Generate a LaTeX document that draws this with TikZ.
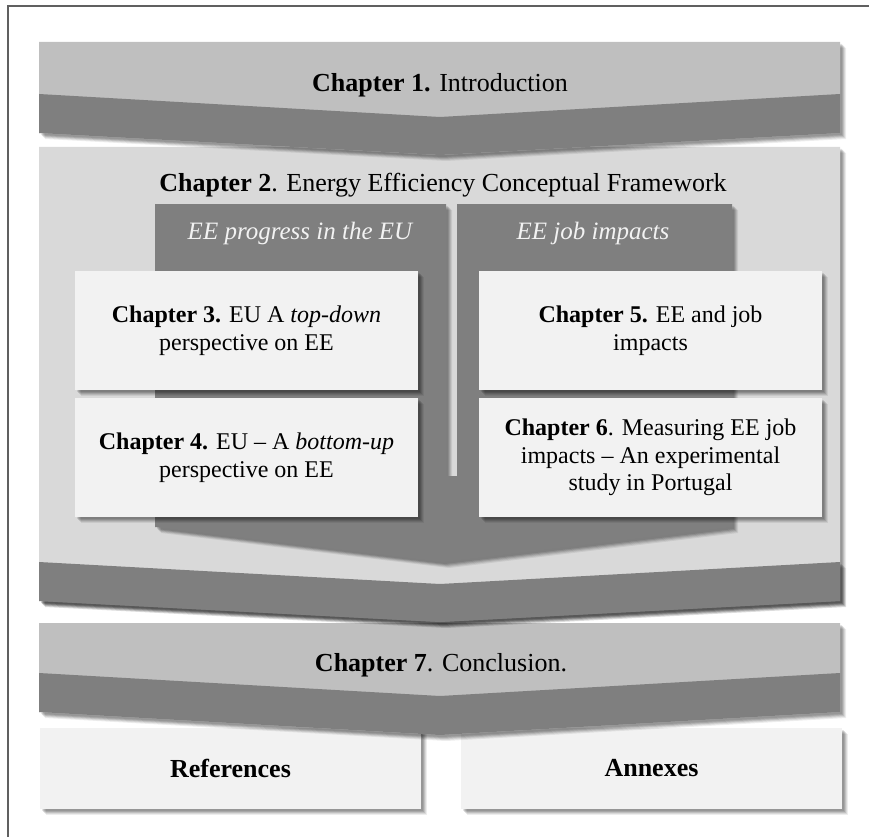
\documentclass[tikz,border=0pt]{standalone}
\usepackage{fontspec}
\setmainfont{Liberation Serif}
\usetikzlibrary{shadows}
\definecolor{bandlight}{HTML}{BFBFBF}
\definecolor{banddark}{HTML}{7F7F7F}
\definecolor{bgmid}{HTML}{D9D9D9}
\definecolor{boxfill}{HTML}{F2F2F2}
\definecolor{framegray}{HTML}{606060}
\begin{document}
\begin{tikzpicture}[x=1pt,y=-1pt,
  shd/.style={
    drop shadow={shadow xshift=6pt, shadow yshift=-6pt, opacity=0.07, fill=black},
    drop shadow={shadow xshift=5pt, shadow yshift=-5pt, opacity=0.09, fill=black},
    drop shadow={shadow xshift=4pt, shadow yshift=-4pt, opacity=0.11, fill=black},
    drop shadow={shadow xshift=3pt, shadow yshift=-3pt, opacity=0.13, fill=black},
    drop shadow={shadow xshift=2pt, shadow yshift=-2pt, opacity=0.10, fill=black}},
  lightshape/.style={fill=bandlight, shd},
  darkband/.style={fill=banddark},
  midshape/.style={fill=bgmid, shd},
  colshape/.style={fill=banddark, shd},
  chapbox/.style={rectangle, fill=boxfill, shd, inner sep=0pt, align=center,
     font=\fontsize{24}{27.5}\selectfont},
  endbox/.style={rectangle, fill=boxfill, shd, inner sep=0pt, align=center,
     font=\fontsize{26}{30}\selectfont\bfseries,
     minimum width=381, minimum height=81},
  title/.style={font=\fontsize{26}{30}\selectfont, inner sep=0pt},
  collabel/.style={font=\fontsize{25}{30}\selectfont\itshape, text=boxfill, inner sep=0pt},
  frameline/.style={draw=framegray, line width=1.2pt}
]
\useasboundingbox (0,0) rectangle (869,837);
% frame
\coordinate (fbl) at (8,837);
\coordinate (ftl) at (8,6);
\coordinate (ftr) at (869,6);
\draw[frameline] (fbl) -- (ftl) -- (ftr);

% References / Annexes
\node[endbox] (refs) at (230.5,768.5) {References};
\node[endbox] (annex) at (651.5,768.5) {Annexes};

% Chapter 7
\path[lightshape] (39,623) -- (840,623) -- (840,712) -- (440,735) -- (39,712) -- cycle;
\path[darkband] (39,673) -- (440,696) -- (840,673) -- (840,712) -- (440,735) -- (39,712) -- cycle;
\node[title] (t7) at (441,665) {\textbf{Chapter 7}. Conclusion.};

% Chapter 2 background
\path[midshape] (39,147) -- (840,147) -- (840,601) -- (440,622) -- (39,601) -- cycle;
\node[title] (t2) at (443,185) {\textbf{Chapter 2}. Energy Efficiency Conceptual Framework};
% dark columns merging into arrow
\path[colshape] (155,204) -- (446,204) -- (446,476) -- (457,476) -- (457,204) -- (732,204)
   -- (732,527) -- (443,562) -- (155,527) -- cycle;
\node[collabel] (l1) at (300,233) {EE progress in the EU};
\node[collabel] (l2) at (593,233) {EE job impacts};

% chapter boxes
\node[chapbox, minimum width=343, minimum height=119] (c3) at (246.5,330.5)
  {\textbf{Chapter 3.} EU A \textit{top-down}\\perspective on EE};
\node[chapbox, minimum width=343, minimum height=119] (c4) at (246.5,457.5)
  {\textbf{Chapter 4.} EU -- A \textit{bottom-up}\\perspective on EE};
\node[chapbox, minimum width=343, minimum height=119] (c5) at (650.5,330.5)
  {\textbf{Chapter 5.} EE and job\\impacts};
\node[chapbox, minimum width=343, minimum height=119] (c6) at (650.5,457.5)
  {\textbf{Chapter 6}. Measuring EE job\\impacts -- An experimental\\study in Portugal};

% Chapter 2 dark band
\path[darkband, shd] (39,562) -- (440,584) -- (840,562) -- (840,601) -- (440,622) -- (39,601) -- cycle;

% Chapter 1
\path[lightshape] (39,42) -- (840,42) -- (840,133) -- (440,155) -- (39,133) -- cycle;
\path[darkband] (39,94) -- (440,117) -- (840,94) -- (840,133) -- (440,155) -- (39,133) -- cycle;
\node[title] (t1) at (440,85) {\textbf{Chapter 1.} Introduction};
\end{tikzpicture}
\end{document}
